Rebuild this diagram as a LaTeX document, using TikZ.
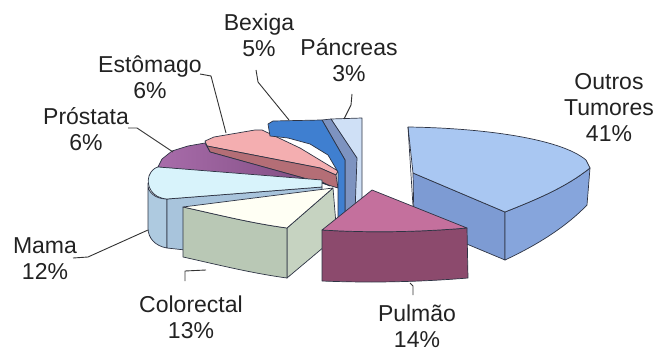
\documentclass[tikz,border=0pt]{standalone}
\usepackage{fontspec}
\setmainfont{Liberation Sans}
\definecolor{edgec}{HTML}{2E3444}
\definecolor{txtc}{HTML}{222222}
\definecolor{leadc}{HTML}{333333}
\definecolor{outTop}{HTML}{A9C7F2}
\definecolor{outRad}{HTML}{7D9BD3}
\definecolor{outArc}{HTML}{86A5DC}
\definecolor{pulTop}{HTML}{C4709D}
\definecolor{pulFront}{HTML}{8C4A6D}
\definecolor{colTop}{HTML}{FFFFF4}
\definecolor{colArc}{HTML}{B9C8B5}
\definecolor{colRad}{HTML}{C6D3C1}
\definecolor{mamTop}{HTML}{D8F3FB}
\definecolor{mamRad}{HTML}{A8C4DC}
\definecolor{mamArc}{HTML}{AECAE0}
\definecolor{proL}{HTML}{A86CAA}
\definecolor{proR}{HTML}{7C4A7E}
\definecolor{estTop}{HTML}{F4AEB0}
\definecolor{estSide}{HTML}{B46E76}
\definecolor{bexTop}{HTML}{3F7FD0}
\definecolor{bexSide}{HTML}{7D93C0}
\definecolor{panTop}{HTML}{CFE0F6}
\begin{document}
\begin{tikzpicture}[x=1pt,y=-1pt,
  face/.style={draw=edgec, line width=0.7pt, line join=round},
  lbl/.style={font=\fontsize{23}{26}\selectfont, text=txtc, align=center, inner sep=0pt},
  leader/.style={draw=leadc, line width=0.9pt, line join=round}]
\useasboundingbox (0,0) rectangle (670,353);

% ---------- Pancreas (back) ----------
\path[face, fill=panTop] (331,119) -- (362,118) -- (362,203) -- (355,206) -- (355,160) -- cycle;
% ---------- Bexiga ----------
\path[face, fill=bexSide] (322,120) -- (331,119) -- (357,158) -- (355,212) -- (345,214) -- (345,160) -- cycle;
% ---------- Estomago ----------
\path[face, fill=estTop] (205,141) -- (214,137) -- (255,130) -- (262,130) -- (300,148) -- (338,171) -- (336,175) -- (320,168) -- (207,146) -- cycle;
\path[face, fill=estSide] (207,146) -- (320,168) -- (336,175) -- (338,188) -- (325,184) -- (210,152) -- cycle;
\path[face, fill=bexTop] (268,124) -- (273,121) -- (322,120) -- (345,160) -- (345,222) -- (338,224) -- (338,172) -- (328,155) -- (310,144) -- (288,138) -- (270,136) -- cycle;
% ---------- Prostata ----------
\path[face, left color=proL, right color=proR] (158,167) -- (162,159) -- (172,151) -- (188,146) -- (205,143) -- (210,152) -- (325,184) -- (330,186) -- (322,182) -- cycle;
% ---------- Mama ----------
\path[face, fill=mamArc] (148,183) .. controls (147,192) and (155,199) .. (167,199) -- (167,248) .. controls (155,246) and (148,238) .. (148,228) -- cycle;
\path[face, fill=mamRad] (167,199) -- (322,187) -- (322,195) -- (185,210) -- (185,250) -- (167,248) -- cycle;
\path[face, fill=mamTop] (158,167) -- (322,180) -- (322,187) -- (167,199) .. controls (152,198) and (146,186) .. (149,176) .. controls (151,171) and (154,168) .. (158,167) -- cycle;
% ---------- Colorectal ----------
\path[face, fill=colRad] (287,228) -- (333,188) -- (337,236) -- (287,278) -- cycle;
\path[face, fill=colArc] (183,207) .. controls (215,214) and (250,223) .. (287,228) -- (287,278) .. controls (250,273) and (215,264) .. (183,257) -- cycle;
\path[face, fill=colTop] (183,207) -- (333,188) -- (287,228) .. controls (250,223) and (215,214) .. (183,207) -- cycle;
% ---------- Outros Tumores ----------
\path[face, fill=outRad] (413,173) -- (505,212) -- (505,260) -- (414,222) -- cycle;
\path[face, fill=outArc] (505,212) .. controls (535,200) and (565,188) .. (590,168) -- (587,205) .. controls (565,228) and (535,246) .. (505,260) -- cycle;
\path[face, fill=outTop] (413,173) -- (408,127) .. controls (480,128) and (560,138) .. (586,160) -- (590,168) .. controls (565,188) and (535,200) .. (505,212) -- cycle;
\draw[face] (408,127) -- (414,222);
% ---------- Pulmao ----------
\path[face, fill=pulFront] (322,230) .. controls (370,233) and (420,232) .. (467,228) -- (468,278) .. controls (420,282) and (370,283) .. (322,281) -- cycle;
\path[face, fill=pulTop] (372,190) -- (467,228) .. controls (420,232) and (370,233) .. (322,230) -- cycle;

% ---------- labels ----------
\node[lbl] (lbex) at (259,35) {Bexiga\\5\%};
\node[lbl] (lpan) at (349,60) {Páncreas\\3\%};
\node[lbl] (lest) at (150,77) {Estômago\\6\%};
\node[lbl] (lpro) at (86,129) {Próstata\\6\%};
\node[lbl] (lmam) at (45,259) {Mama\\12\%};
\node[lbl] (lcol) at (191,317) {Colorectal\\13\%};
\node[lbl] (lpul) at (417,326) {Pulmão\\14\%};
\node[lbl] (lout) at (609,108) {Outros\\Tumores\\41\%};

% ---------- leaders ----------
\coordinate (bexA) at (256,70); \coordinate (bexB) at (258,82); \coordinate (bexT) at (289,120);
\coordinate (panA) at (352,94); \coordinate (panB) at (351,105); \coordinate (panT) at (344,119);
\coordinate (estA) at (200,74); \coordinate (estB) at (211,76); \coordinate (estT) at (226,133);
\coordinate (proA) at (128,128); \coordinate (proB) at (137,128); \coordinate (proT) at (173,152);
\coordinate (mamA) at (73,258); \coordinate (mamB) at (88,257); \coordinate (mamT) at (148,230);
\coordinate (colA) at (185,281); \coordinate (colB) at (185,271); \coordinate (colT) at (206,270);
\coordinate (pulA) at (410,283); \coordinate (pulB) at (413,286); \coordinate (pulT) at (413,295);
\draw[leader] (bexA) -- (bexB) -- (bexT);
\draw[leader] (panA) -- (panB) -- (panT);
\draw[leader] (estA) -- (estB) -- (estT);
\draw[leader] (proA) -- (proB) -- (proT);
\draw[leader] (mamA) -- (mamB) -- (mamT);
\draw[leader] (colA) -- (colB) -- (colT);
\draw[leader] (pulA) -- (pulB) -- (pulT);
\end{tikzpicture}
\end{document}
